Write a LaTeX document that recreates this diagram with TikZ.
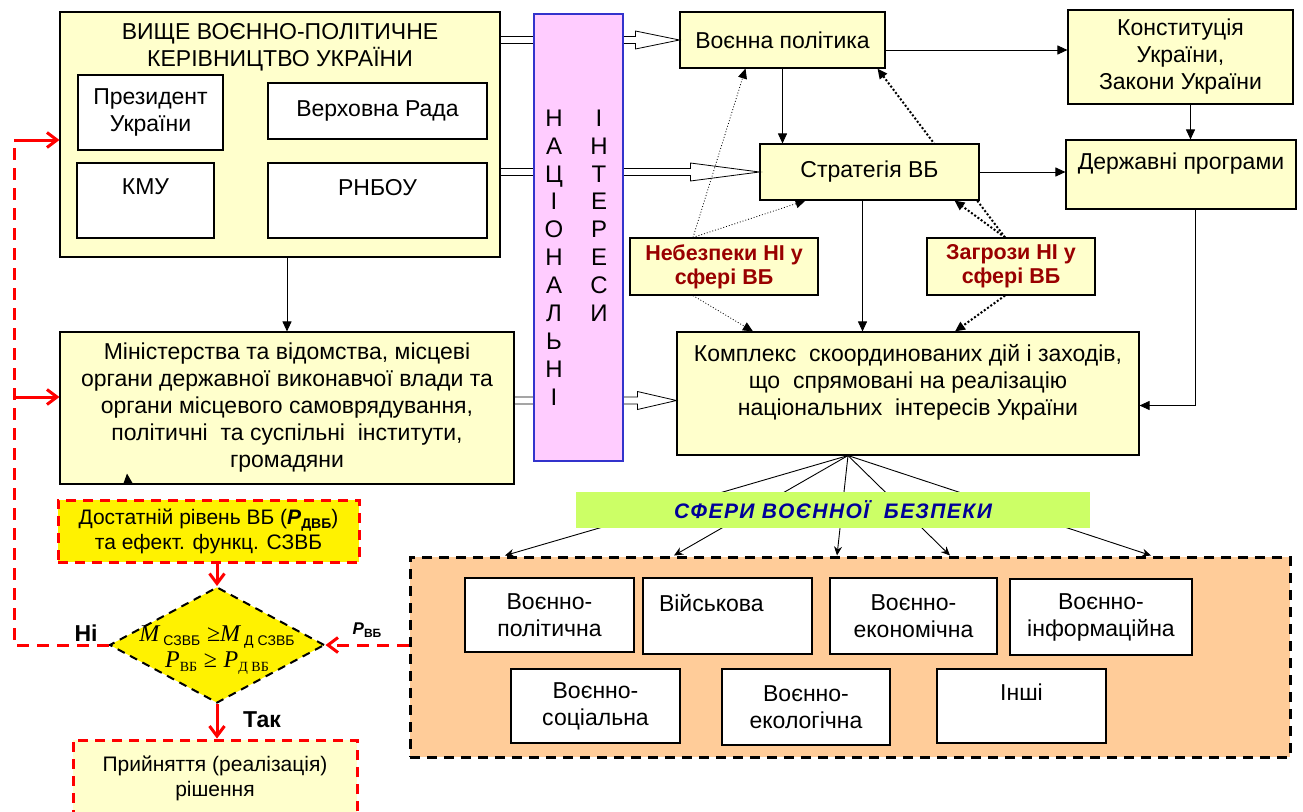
\documentclass[tikz,border=0pt]{standalone}
\usepackage{fontspec}
\setmainfont{Liberation Sans}
\newfontfamily\tnrfont{Liberation Serif}
\usetikzlibrary{arrows.meta,calc,shapes.geometric}

\definecolor{paleyel}{HTML}{FFFFCC}
\definecolor{pinkband}{HTML}{FFCCFF}
\definecolor{bandblue}{HTML}{3333CC}
\definecolor{darkred}{HTML}{990000}
\definecolor{limeband}{HTML}{CCFF66}
\definecolor{sfblue}{HTML}{000099}
\definecolor{peach}{HTML}{FFCC99}

% block arrow (white, outlined) from #2 to #3, head length #1
\newcommand{\hollowarr}[3][44]{%
  \draw[hollow] let \p1=(#2), \p2=(#3) in
    (\x1,\y2+3.5pt) -- (\x2-#1pt,\y2+3.5pt) -- (\x2-#1pt,\y2+9pt) -- (\x2,\y2)
    -- (\x2-#1pt,\y2-9pt) -- (\x2-#1pt,\y2-3.5pt) -- (\x1,\y2-3.5pt) -- cycle;}
\newcommand{\sbs}[1]{\raisebox{-4pt}{\fontsize{14}{14}\selectfont #1}}

\begin{document}
\begin{tikzpicture}[x=1pt,y=-1pt,
  box/.style={draw,line width=1.1pt,inner sep=0pt,align=center,
    font=\fontsize{23}{27}\selectfont},
  ybox/.style={box,fill=paleyel},
  wbox/.style={box,fill=white},
  dbox/.style={ybox,text=darkred,font=\fontsize{21.5}{24}\selectfont\bfseries},
  redbox/.style={draw=red,line width=3pt,dash pattern=on 10pt off 7pt,
    inner sep=0pt,align=center,font=\fontsize{21}{25}\selectfont},
  arr/.style={-{Triangle[length=10pt,width=9pt]},line width=0.9pt},
  dotarr/.style={arr,dotted,line width=0.8pt},
  thickdot/.style={arr,line width=2pt,dash pattern=on 2pt off 2pt},
  fanarr/.style={-{Stealth[length=9pt,width=8pt]},line width=0.9pt},
  redline/.style={draw=red,line width=3pt,dash pattern=on 12pt off 8pt},
  redarr/.style={redline,-{Straight Barb[length=10pt,width=15pt]}},
  hollow/.style={draw,fill=white,line width=0.8pt},
  lbl/.style={font=\fontsize{23}{26}\selectfont\bfseries}]
\useasboundingbox (0,0) rectangle (1303,811);

% leadership
\node[ybox,minimum width=440pt,minimum height=245pt] (vpk) at (280,134.5) {};
\node[font=\fontsize{23}{27}\selectfont,align=center,anchor=north,inner sep=0pt]
  (vpktitle) at ([yshift=-12pt]vpk.north) {ВИЩЕ ВОЄННО-ПОЛІТИЧНЕ\\КЕРІВНИЦТВО УКРАЇНИ};
\node[wbox,minimum width=145pt,minimum height=75pt] (pres) at (150.5,112.5) {Президент\\України};
\node[wbox,minimum width=219pt,minimum height=56pt] (vr) at (377.5,111) {Верховна Рада};
\node[wbox,minimum width=137pt,minimum height=75pt] (kmu) at (145.5,200.5) {КМУ\\ \mbox{}};
\node[wbox,minimum width=219pt,minimum height=75pt] (rnbou) at (377.5,200.5) {РНБОУ\\ \mbox{}};

% policy and strategy
\node[ybox,minimum width=205pt,minimum height=56pt] (vp) at (782.5,40) {Воєнна політика};
\node[ybox,minimum width=225pt,minimum height=94pt] (konst) at (1180.5,57) {Конституція\\України,\\Закони України};
\node[dbox,minimum width=168pt,minimum height=57pt] (zag) at (1011,266.5) {Загрози НІ у\\сфері ВБ};
\draw[thickdot] ([xshift=-6pt]zag.north) -- ([xshift=95pt]vp.south);
\node[ybox,minimum width=219pt,minimum height=56pt] (strat) at (869.5,172) {Стратегія ВБ};
\node[ybox,minimum width=230pt,minimum height=69pt] (dp) at (1181,174.5) {Державні програми\\ \mbox{}};
\node[dbox,minimum width=188pt,minimum height=57pt] (neb) at (724,266.5) {Небезпеки НІ у\\сфері ВБ};
\node[ybox,minimum width=462pt,minimum height=123pt] (kompl) at (908,393.5)
  {Комплекс\ \ скоординованих дій і заходів,\\що\ \ спрямовані на реалізацію\\національних\ \ інтересів України\\ \mbox{}};
\node[ybox,minimum width=454pt,minimum height=152pt] (mvo) at (287,408)
  {Міністерства та відомства, місцеві\\органи державної виконавчої влади та\\органи місцевого самоврядування,\\політичні\ \ та суспільні\ \ інститути,\\громадяни};

% spheres
\node[draw,fill=peach,line width=3pt,dash pattern=on 10pt off 7pt,
  minimum width=880pt,minimum height=200pt] (sfb) at (850,657) {};
\node[wbox,minimum width=169pt,minimum height=74pt] (s1) at (549.5,615) {Воєнно-\\політична};
\node[wbox,minimum width=169pt,minimum height=76pt,text width=137pt,align=left] (s2) at (727.5,616) {Військова\\ \mbox{}};
\node[wbox,minimum width=167pt,minimum height=76pt] (s3) at (913.5,616) {Воєнно-\\економічна};
\node[wbox,minimum width=182pt,minimum height=76pt] (s4) at (1101,617) {Воєнно-\\інформаційна};
\node[wbox,minimum width=169pt,minimum height=74pt] (s5) at (595.5,706) {Воєнно-\\соціальна};
\node[wbox,minimum width=168pt,minimum height=76pt] (s6) at (806,707) {Воєнно-\\екологічна};
\node[wbox,minimum width=169pt,minimum height=74pt] (s7) at (1021.5,706) {Інші\\ \mbox{}};

% decision part
\node[redbox,fill=yellow,minimum width=301pt,minimum height=62pt] (dost) at (208.5,531)
  {Достатній рівень ВБ (\textbf{\textit{P}}\sbs{\bfseries ДВБ})\\та ефект. функц. СЗВБ};
\node[diamond,draw,fill=yellow,line width=2pt,dash pattern=on 8pt off 6pt,
  minimum width=215pt,minimum height=116pt,inner sep=0pt] (diam) at (217,645) {};
\node[align=center,inner sep=0pt,font=\fontsize{24}{26}\selectfont] (diamtxt) at ([yshift=-5pt]diam.center)
  {{\tnrfont\itshape M}\,\sbs{СЗВБ}\ {\tnrfont ≥}{\tnrfont\itshape M}\,\sbs{Д СЗВБ}\\
   {\tnrfont\itshape P}\sbs{\tnrfont ВБ} {\tnrfont ≥} {\tnrfont\itshape P}\sbs{\tnrfont Д ВБ}};
\node[redbox,fill=paleyel,minimum width=284pt,minimum height=76pt] (prin) at (215,778)
  {Прийняття (реалізація)\\рішення};
\node[lbl] (no) at (86,633) {Ні};
\node[lbl] (yes) at (262,720) {Так};
\node[font=\fontsize{17}{20}\selectfont\bfseries] (pvb) at (367,630)
  {\textit{P}\raisebox{-3pt}{\fontsize{12}{12}\selectfont ВБ}};

% block arrows through national interests
\coordinate (a3) at ([yshift=-7pt]kompl.west);
\hollowarr{vpk.east |- vp.west}{vp.west}
\hollowarr[69]{vpk.east |- strat.west}{strat.west}
\hollowarr[39]{mvo.east |- a3}{a3}
\node[draw=bandblue,fill=pinkband,line width=1.2pt,minimum width=89pt,
  minimum height=447pt,inner sep=0pt] (nat) at (578.5,237.5) {};
\node[font=\fontsize{24}{27.9}\selectfont,align=center,inner sep=0pt] (natw1) at (554,257.5)
  {Н\\А\\Ц\\І\\О\\Н\\А\\Л\\Ь\\Н\\І};
\node[font=\fontsize{24}{27.9}\selectfont,align=center,inner sep=0pt] (natw2) at (599,215.6)
  {І\\Н\\Т\\Е\\Р\\Е\\С\\И};

% fan to the spheres
\coordinate (fan) at ([xshift=-60pt]kompl.south);
\foreach \x in {505,674,837,950,1151}
  \draw[fanarr] (fan) -- (sfb.north -| \x,0);
\node[fill=limeband,minimum width=514pt,minimum height=36pt,inner sep=0pt,
  font=\fontsize{21}{24}\selectfont\bfseries\itshape\addfontfeature{LetterSpace=7},text=sfblue]
  (sfera) at (833,510) {СФЕРИ ВОЄННОЇ\ \ БЕЗПЕКИ};

% solid arrows
\draw[arr] (vpk.south -| mvo.north) -- (mvo.north);
\draw[arr] ([yshift=-10pt]vp.east) -- ([yshift=-10pt]vp.east -| konst.west);
\draw[arr] (vp.south) -- (vp.south |- strat.north);
\draw[arr] ([xshift=10pt]konst.south) -- ([xshift=10pt]konst.south |- dp.north);
\draw[arr] (strat.east) -- (strat.east -| dp.west);
\draw[arr] ([xshift=-7pt]strat.south) -- ([xshift=-7pt]strat.south |- kompl.north);
\draw[arr] ([xshift=14pt]dp.south) |- ([yshift=-12pt]kompl.east);
\coordinate (stray) at ([xshift=-159pt]mvo.south);
\draw[arr] (stray) -- ++(-1,-11);

% dotted arrows
\draw[dotarr] ([xshift=-31pt]neb.north) -- ([xshift=-37pt]vp.south);
\draw[dotarr] ([xshift=-31pt]neb.north) -- ([xshift=-64pt]strat.south);
\draw[dotarr] ([xshift=-31pt]neb.south) -- ([xshift=-155pt]kompl.north);
\draw[thickdot] ([xshift=-6pt]zag.north) -- ([xshift=85pt]strat.south);
\draw[thickdot] ([xshift=-6pt]zag.south) -- ([xshift=47pt]kompl.north);

% red feedback
\coordinate (fb) at (14,140);
\coordinate (fb2) at (14,397);
\draw[redline] (diam.west) -| (fb);
\draw[redarr,solid] (fb) -- (fb -| vpk.west);
\draw[redarr,solid] (fb2) -- (fb2 -| mvo.west);
\draw[redarr,solid] (dost.south -| diam.north) -- (diam.north);
\draw[redarr,solid] (diam.south) -- (diam.south |- prin.north);
\draw[redarr] (sfb.west |- diam.east) -- (diam.east);
\end{tikzpicture}
\end{document}
